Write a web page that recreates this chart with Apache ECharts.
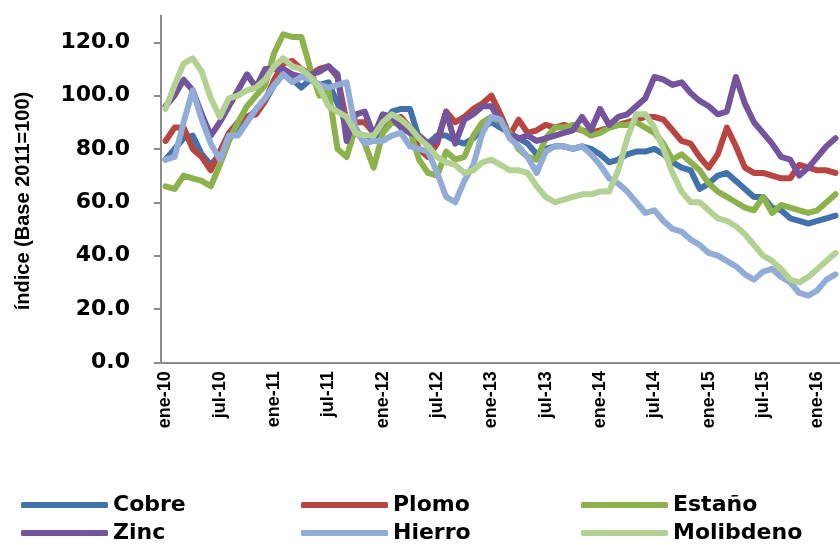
<!DOCTYPE html>
<html>
<head>
<meta charset="utf-8">
<script src="https://cdn.jsdelivr.net/npm/echarts@6/dist/echarts.min.js"></script>
<style>
  html, body { margin: 0; padding: 0; background: #fff; }
  #chart { width: 840px; height: 545px; }
</style>
</head>
<body>
<div id="chart"></div>
<script>
// meses ene-10 .. mar-16
var meses = ['ene','feb','mar','abr','may','jun','jul','ago','sep','oct','nov','dic'];
var anios = ['10','11','12','13','14','15','16'];
var categorias = [];
anios.forEach(function(a) {
    meses.forEach(function(m) { categorias.push(m + '-' + a); });
});
categorias = categorias.slice(0, 75);

var yTicks = [0, 20, 40, 60, 80, 100, 120];

var cobre = [76,80,84,85,78,74,78,84,87,92,94,98,
    104,108,106,103,106,104,105,97,89,86,85,84,
    88,94,95,95,84,82,85,85,83,82,84,88,
    90,88,86,84,82,78,80,81,81,80,81,80,
    78,75,76,78,79,79,80,78,75,73,72,65,
    67,70,71,68,65,62,62,58,57,54,53,52,
    53,54,55];
var plomo = [83,88,88,80,77,72,79,86,90,92,93,98,
    106,112,113,110,108,110,111,107,90,90,90,86,
    90,91,92,88,80,77,82,94,90,92,95,97,
    100,93,85,91,86,87,89,88,89,88,87,86,
    87,88,89,90,91,92,92,91,87,83,82,77,
    73,78,88,81,73,71,71,70,69,69,74,73,
    72,72,71];
var estano = [66,65,70,69,68,66,74,83,90,96,100,104,
    116,123,122,122,110,100,102,80,77,88,82,73,
    86,90,89,87,76,71,70,79,76,77,85,90,
    92,90,86,80,77,76,84,88,88,89,87,85,
    86,88,89,89,90,88,86,82,76,78,75,72,
    67,64,62,60,58,57,62,56,59,58,57,56,
    57,60,63];
var zinc = [96,100,106,102,93,85,90,96,102,108,103,110,
    110,110,108,107,108,109,111,108,83,93,94,85,
    93,92,88,86,85,82,83,94,82,91,93,96,
    96,90,85,84,85,83,84,85,86,87,92,87,
    95,89,92,93,96,99,107,106,104,105,101,98,
    96,93,94,107,97,90,86,82,77,76,70,73,
    77,81,84];
var hierro = [76,77,90,102,91,82,76,85,85,90,95,99,
    104,108,105,107,106,104,103,104,105,87,82,83,
    83,85,86,81,80,79,71,62,60,68,74,86,
    92,91,84,81,77,71,79,81,81,80,81,78,
    74,69,67,64,60,56,57,53,50,49,46,44,
    41,40,38,36,33,31,34,35,32,30,26,25,
    27,31,33];
var molibdeno = [95,104,112,114,109,99,92,99,100,102,103,106,
    111,114,111,110,107,103,96,94,92,86,85,85,
    90,93,91,88,84,81,77,75,74,71,72,75,
    76,74,72,72,71,66,62,60,61,62,63,63,
    64,64,72,84,93,93,88,80,71,64,60,60,
    57,54,53,51,48,44,40,38,35,31,30,32,
    35,38,41];

var nombres = ['Cobre', 'Plomo', 'Estaño', 'Zinc', 'Hierro', 'Molibdeno'];
var colores = ['#4272ac', '#b84542', '#8cb24c', '#74549c', '#91acd6', '#b3d193'];
var datos = [cobre, plomo, estano, zinc, hierro, molibdeno];

var myChart = echarts.init(document.getElementById('chart'));
var option = {
    animation: false,
    backgroundColor: '#fff',
    grid: {
        left: 161,
        right: -4,
        top: 15.6,
        bottom: 182.7,
        containLabel: false
    },
    legend: nombres.map(function(n, k) {
        return {
            data: [n],
            left: 21 + (k % 3) * 280,
            top: 494 + Math.floor(k / 3) * 28,
            padding: 0,
            icon: 'roundRect',
            itemWidth: 87,
            itemHeight: 6,
            selectedMode: false,
            textStyle: {
                fontFamily: 'DejaVu Sans',
                fontWeight: 'bold',
                fontSize: 22,
                color: '#000'
            }
        };
    }),
    graphic: [{
        type: 'text',
        x: 23,
        y: 201,
        rotation: Math.PI / 2,
        style: {
            text: 'índice (Base 2011=100)',
            font: 'bold 20px "Liberation Sans"',
            fill: '#000',
            textAlign: 'center',
            textVerticalAlign: 'middle'
        }
    }],
    xAxis: {
        type: 'category',
        data: categorias,
        boundaryGap: true,
        axisLine: { lineStyle: { color: '#8c8c8c', width: 2 } },
        axisTick: { interval: 5, length: 6, lineStyle: { color: '#8c8c8c', width: 2 } },
        axisLabel: {
            interval: 5,
            rotate: 90,
            margin: 9,
            fontFamily: 'Liberation Sans',
            fontWeight: 'bold',
            fontSize: 18,
            color: '#000'
        },
        splitLine: { show: false }
    },
    yAxis: {
        type: 'value',
        min: 0,
        max: 130,
        interval: 20,
        axisLine: { show: true, lineStyle: { color: '#8c8c8c', width: 2 } },
        axisTick: { show: true, length: 7, customValues: yTicks, lineStyle: { color: '#8c8c8c', width: 2 } },
        axisLabel: {
            customValues: yTicks,
            margin: 31,
            fontFamily: 'DejaVu Sans',
            fontWeight: 'bold',
            fontSize: 22,
            color: '#000',
            formatter: function(v) { return v.toFixed(1); }
        },
        splitLine: { show: false }
    },
    series: nombres.map(function(n, k) {
        return {
            name: n,
            type: 'line',
            data: datos[k],
            symbol: 'none',
            color: colores[k],
            lineStyle: { width: 6, color: colores[k], cap: 'round', join: 'round' }
        };
    })
};
myChart.setOption(option);
</script>
</body>
</html>
